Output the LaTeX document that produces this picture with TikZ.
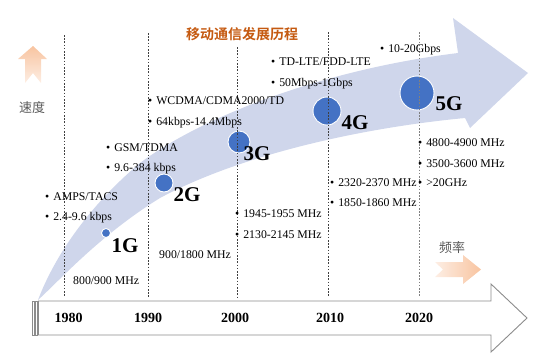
\documentclass[tikz,border=0pt]{standalone}
\usepackage{fontspec}
\setmainfont{Liberation Serif}
\newfontfamily\cjk{Noto Sans CJK SC}[BoldFont={Noto Sans CJK SC Bold}]
\definecolor{bandc}{HTML}{CFD6EB}
\definecolor{dotc}{HTML}{4472C4}
\definecolor{titleor}{HTML}{C55A11}
\definecolor{peach}{HTML}{F8C4A0}
\definecolor{peachl}{HTML}{FDEEE4}
\definecolor{axisgray}{HTML}{8C8C8C}
\definecolor{dashgray}{HTML}{404040}
\definecolor{labgray}{HTML}{595959}
\begin{document}
\begin{tikzpicture}[x=1bp,y=-1bp,
  txt/.style={anchor=base west,inner sep=0,font=\fontsize{11.8bp}{14bp}\selectfont},
  gen/.style={anchor=base,inner sep=0,font=\fontsize{21bp}{24bp}\selectfont\bfseries},
  yr/.style={anchor=base,inner sep=0,font=\fontsize{14bp}{16bp}\selectfont\bfseries},
  dotn/.style={circle,fill=dotc,draw=white,line width=0.9bp,inner sep=0},
  vline/.style={draw=dashgray,line width=0.6bp,dash pattern=on 1.6bp off 1.6bp},
  cjklab/.style={anchor=base,inner sep=0,text=labgray,font=\cjk\fontsize{13bp}{15bp}\selectfont}]
\useasboundingbox (0,0) rectangle (538,360);
% big curved band arrow
\fill[bandc] (38,300) .. controls (55,255) and (90,205) .. (140,163)
  .. controls (200,118) and (320,70) .. (458,53)
  -- (453,18) -- (528,73) -- (470,128) -- (465,118)
  .. controls (360,128) and (240,155) .. (160,198)
  .. controls (100,235) and (60,280) .. (38,300) -- cycle;
% bottom axis arrow
\draw[draw=axisgray,fill=white,line width=0.6bp] (32.5,301) rectangle (34,335);
\draw[draw=axisgray,fill=white,line width=0.6bp] (35.5,301) rectangle (36.8,335);
\draw[draw=axisgray,fill=white,line width=0.9bp] (38.5,301) -- (491,301) -- (491,284) -- (527,318) -- (491,352) -- (491,335) -- (38.5,335) -- cycle;
% orange arrows
\shade[top color=peach,bottom color=peachl] (33,46) -- (47,59) -- (41,59) -- (41,83) -- (33,73) -- (25,83) -- (25,59) -- (18,59) -- cycle;
\shade[left color=peachl,right color=peach] (481,269.5) -- (463,255) -- (463,262) -- (435,262) -- (443,269.5) -- (435,277) -- (463,277) -- (463,284) -- cycle;
% circles
\node[dotn,minimum size=9bp] (c1) at (106,233) {};
\node[dotn,minimum size=18bp] (c2) at (164,183) {};
\node[dotn,minimum size=22bp] (c3) at (239,142) {};
\node[dotn,minimum size=28bp] (c4) at (327,111) {};
\node[dotn,minimum size=34bp] (c5) at (417,93) {};
% dashed lines
\coordinate (v1t) at (64,35);  \coordinate (v1b) at (64,297);
\coordinate (v2t) at (148,33); \coordinate (v2b) at (148,297);
\coordinate (v3t) at (237,47); \coordinate (v3b) at (237,297);
\coordinate (v4t) at (328,32); \coordinate (v4b) at (328,297);
\coordinate (v5t) at (419,32); \coordinate (v5b) at (419,297);
\draw[vline] (v1t) -- (v1b);
\draw[vline] (v2t) -- (v2b);
\draw[vline] (v3t) -- (v3b);
\draw[vline] (v4t) -- (v4b);
\draw[vline,draw=gray] (v5t) -- (v5b);
% title and axis labels
\node[anchor=base,inner sep=0,text=titleor,font=\cjk\bfseries\fontsize{14bp}{16bp}\selectfont] (title) at (242,39.5) {移动通信发展历程};
\node[cjklab] (speed) at (32,112.5) {速度};
\node[cjklab] (freq) at (452,252.5) {频率};
% generation labels
\node[gen] (g1) at (125,252) {1G};
\node[gen] (g2) at (187,201) {2G};
\node[gen] (g3) at (257,160) {3G};
\node[gen] (g4) at (355,129) {4G};
\node[gen] (g5) at (449,110) {5G};
% years
\node[yr] (y1) at (68.5,322.8) {1980};
\node[yr] (y2) at (148,322.8) {1990};
\node[yr] (y3) at (235,322.8) {2000};
\node[yr] (y4) at (330,322.8) {2010};
\node[yr] (y5) at (419,322.8) {2020};
% texts
\node[txt] (t1a) at (45,200) {\textbullet\hspace{4bp}AMPS/TACS};
\node[txt] (t1b) at (45,220) {\textbullet\hspace{4bp}2.4-9.6 kbps};
\node[txt] (t1c) at (73,284) {800/900 MHz};
\node[txt] (t2a) at (106,151) {\textbullet\hspace{4bp}GSM/TDMA};
\node[txt] (t2b) at (106,171) {\textbullet\hspace{4bp}9.6-384 kbps};
\node[txt] (t2c) at (159,258) {900/1800 MHz};
\node[txt] (t3a) at (148,104) {\textbullet\hspace{4bp}WCDMA/CDMA2000/TD};
\node[txt] (t3b) at (148,125) {\textbullet\hspace{4bp}64kbps-14.4Mbps};
\node[txt] (t3c) at (235,217) {\textbullet\hspace{4bp}1945-1955 MHz};
\node[txt] (t3d) at (235,238) {\textbullet\hspace{4bp}2130-2145 MHz};
\node[txt] (t4a) at (271,65) {\textbullet\hspace{4bp}TD-LTE/FDD-LTE};
\node[txt] (t4b) at (271,86) {\textbullet\hspace{4bp}50Mbps-1Gbps};
\node[txt] (t4c) at (330,186) {\textbullet\hspace{4bp}2320-2370 MHz};
\node[txt] (t4d) at (330,206) {\textbullet\hspace{4bp}1850-1860 MHz};
\node[txt] (t5a) at (380,52) {\textbullet\hspace{4bp}10-20Gbps};
\node[txt] (t5b) at (418,146) {\textbullet\hspace{4bp}4800-4900 MHz};
\node[txt] (t5c) at (418,167) {\textbullet\hspace{4bp}3500-3600 MHz};
\node[txt] (t5d) at (418,186) {\textbullet\hspace{4bp}>20GHz};
\end{tikzpicture}
\end{document}
